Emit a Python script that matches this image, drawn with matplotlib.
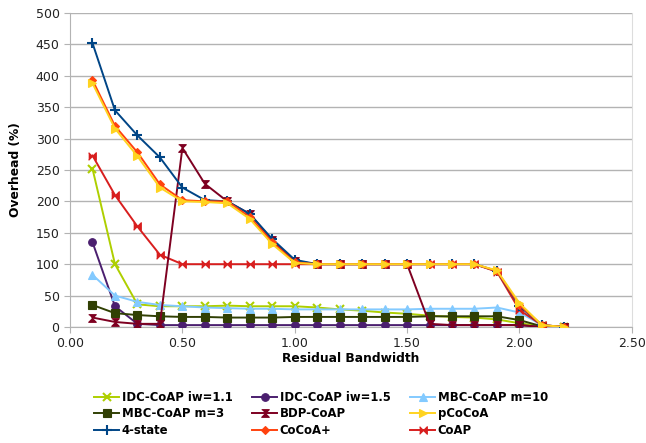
import matplotlib
matplotlib.use("Agg")
import matplotlib.pyplot as plt

# Residual bandwidth sample points
bandwidth = [0.1, 0.2, 0.3, 0.4, 0.5, 0.6, 0.7, 0.8, 0.9, 1.0, 1.1,
             1.2, 1.3, 1.4, 1.5, 1.6, 1.7, 1.8, 1.9, 2.0, 2.1, 2.2]

# Overhead (%) per congestion control scheme
idc_11 = [252, 100, 36, 33, 33, 33, 34, 33, 33, 33, 31,
          28, 26, 23, 21, 18, 16, 15, 12, 6, 1, 0]
idc_15 = [135, 33, 5, 3, 3, 3, 3, 3, 3, 3, 3,
          3, 3, 3, 3, 3, 3, 3, 3, 3, 0, 0]
mbc_10 = [83, 50, 40, 35, 33, 31, 30, 29, 29, 28, 28,
          28, 28, 28, 28, 29, 29, 29, 31, 23, 3, 0]
mbc_3 = [35, 22, 19, 17, 16, 16, 15, 15, 15, 16, 16,
         16, 16, 16, 16, 17, 17, 17, 17, 11, 1, 0]
bdp = [15, 8, 5, 5, 285, 228, 200, 180, 138, 105, 100,
       100, 100, 100, 100, 5, 3, 3, 3, 3, 0, 0]
pcocoa = [388, 316, 272, 222, 200, 199, 197, 172, 132, 102, 100,
          100, 100, 100, 100, 100, 100, 100, 90, 38, 3, 0]
four_state = [452, 345, 305, 270, 222, 202, 200, 180, 140, 107, 100,
              100, 100, 100, 100, 100, 100, 100, 89, 33, 3, 0]
cocoa_plus = [393, 320, 278, 227, 202, 200, 200, 175, 135, 103, 100,
              100, 100, 100, 100, 100, 100, 100, 89, 35, 3, 0]
coap = [273, 210, 160, 115, 100, 100, 100, 100, 100, 100, 100,
        100, 100, 100, 100, 100, 100, 100, 88, 27, 3, 0]

x_ticks = [0.0, 0.5, 1.0, 1.5, 2.0, 2.5]
y_ticks = [0, 50, 100, 150, 200, 250, 300, 350, 400, 450, 500]

# custom bow-tie markers: vertical hourglass and horizontal bow-tie
hourglass = [(-1, 1), (1, 1), (0, 0), (1, -1), (-1, -1), (0, 0)]
bowtie = [(-1, 1), (0, 0), (1, 1), (1, -1), (0, 0), (-1, -1)]

series = [
    ("IDC-CoAP iw=1.1", idc_11, "#AECF00", "x", 5.5, 3),
    ("IDC-CoAP iw=1.5", idc_15, "#4B1F6F", "o", 5.5, 3),
    ("MBC-CoAP m=10", mbc_10, "#83CAFF", "^", 6, 3),
    ("MBC-CoAP m=3", mbc_3, "#314004", "s", 5.5, 3),
    ("BDP-CoAP", bdp, "#7E0021", hourglass, 5.5, 4),
    ("pCoCoA", pcocoa, "#FFD320", ">", 6, 6),
    ("4-state", four_state, "#004586", "+", 6.5, 4),
    ("CoCoA+", cocoa_plus, "#FF420E", "D", 4, 5),
    ("CoAP", coap, "#D81E1E", bowtie, 5.5, 3.5),
]

fig = plt.figure(figsize=(6.46, 4.43), dpi=100)
ax = fig.add_axes([0.1084, 0.2619, 0.8696, 0.7088])

handles = {}
for name, vals, color, marker, ms, z in series:
    mew = 1.5 if marker in ("x", "+") else 0.8
    ln, = ax.plot(bandwidth, vals, color=color, marker=marker, markersize=ms,
                  markeredgewidth=mew, markeredgecolor=color, linewidth=1.4,
                  label=name, zorder=z)
    handles[name] = ln

ax.set_xlim(0, 2.5)
ax.set_ylim(0, 500)
ax.set_xticks(x_ticks)
ax.set_xticklabels([f"{t:.2f}" for t in x_ticks])
ax.set_yticks(y_ticks)
ax.yaxis.grid(True, color="#b3b3b3", linewidth=1.0)
ax.set_axisbelow(True)
for side in ("left", "bottom"):
    ax.spines[side].set_color("#b3b3b3")
ax.spines["top"].set_visible(False)
ax.spines["right"].set_color("#dddddd")
ax.tick_params(axis="both", colors="#b3b3b3", length=4, labelsize=9,
               labelcolor="#222222")

ax.set_xlabel("Residual Bandwidth", fontsize=8.8, fontweight="bold", labelpad=1.5)
ax.set_ylabel("Overhead (%)", fontsize=8.8, fontweight="bold", labelpad=9.5)

# legend laid out row by row across three columns
order = ["IDC-CoAP iw=1.1", "MBC-CoAP m=3", "4-state",
         "IDC-CoAP iw=1.5", "BDP-CoAP", "CoCoA+",
         "MBC-CoAP m=10", "pCoCoA", "CoAP"]
fig.legend([handles[n] for n in order], order, ncol=3,
           loc="center", bbox_to_anchor=(0.497, 0.0655), frameon=False,
           prop={"weight": "bold", "size": 8.4}, handlelength=2.1,
           columnspacing=1.7, labelspacing=0.3, handletextpad=0.25)

fig.savefig("out.png", dpi=100)
